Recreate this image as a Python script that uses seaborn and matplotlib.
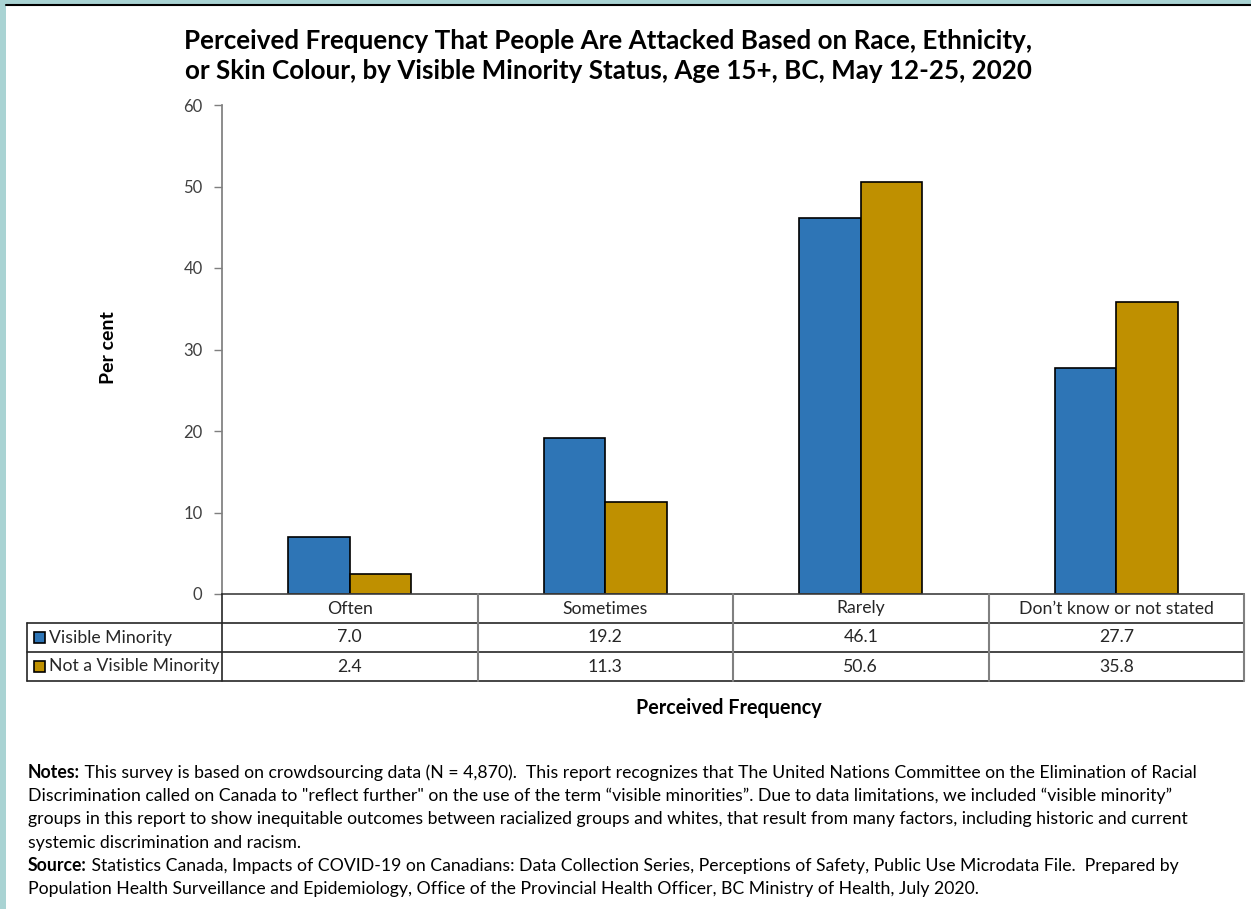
import matplotlib
matplotlib.use("Agg")
import matplotlib.pyplot as plt
from matplotlib.patches import Rectangle
from matplotlib.lines import Line2D
import pandas as pd
import seaborn as sns

# ---- data ----
categories = ["Often", "Sometimes", "Rarely", "Don\u2019t know or not stated"]
series_names = ["Visible Minority", "Not a Visible Minority"]
visible_minority = [7.0, 19.2, 46.1, 27.7]
not_visible_minority = [2.4, 11.3, 50.6, 35.8]
y_ticks = [0, 10, 20, 30, 40, 50, 60]

title = ("Perceived Frequency That People Are Attacked Based on Race, Ethnicity,\n"
         "or Skin Colour, by Visible Minority Status, Age 15+, BC, May 12-25, 2020")
x_label = "Perceived Frequency"
y_label = "Per cent"
notes_lines = [
    ("Notes:", " This survey is based on crowdsourcing data (N = 4,870).  This report recognizes that The United Nations Committee on the Elimination of Racial"),
    ("", "Discrimination called on Canada to \"reflect further\" on the use of the term \u201cvisible minorities\u201d. Due to data limitations, we included \u201cvisible minority\u201d"),
    ("", "groups in this report to show inequitable outcomes between racialized groups and whites, that result from many factors, including historic and current"),
    ("", "systemic discrimination and racism."),
    ("Source:", " Statistics Canada, Impacts of COVID-19 on Canadians: Data Collection Series, Perceptions of Safety, Public Use Microdata File.  Prepared by"),
    ("", "Population Health Surveillance and Epidemiology, Office of the Provincial Health Officer, BC Ministry of Health, July 2020."),
]

colors = ["#2e75b6", "#bf9000"]

df = pd.DataFrame({
    "category": categories * 2,
    "group": [series_names[0]] * 4 + [series_names[1]] * 4,
    "value": visible_minority + not_visible_minority,
})

sns.set_theme(style="white")
FONT = ["Lato", "DejaVu Sans"]
plt.rcParams["font.family"] = FONT

W, H = 1251, 909
fig = plt.figure(figsize=(W / 100, H / 100), dpi=100)
fig.patch.set_facecolor("white")

def fx(px):
    return px / W

def fy(py):
    return 1 - py / H

# frame strips around the page
teal = "#a9d3d3"
fig.patches.append(Rectangle((0, 0), fx(6), 1, transform=fig.transFigure,
                             facecolor=teal, edgecolor="none", zorder=0))
fig.patches.append(Rectangle((0, fy(4)), 1, 4 / H, transform=fig.transFigure,
                             facecolor=teal, edgecolor="none", zorder=0))
fig.lines.append(Line2D([fx(6), 1], [fy(4.5), fy(4.5)], transform=fig.transFigure,
                        color="black", lw=1.5))

# ---- bar chart ----
ax_l, ax_r, ax_t, ax_b = 222, 1244, 105, 594
ax = fig.add_axes([fx(ax_l), fy(ax_b), fx(ax_r - ax_l), (ax_b - ax_t) / H])
sns.barplot(data=df, x="category", y="value", hue="group", order=categories,
            hue_order=series_names, palette=colors, width=0.48, saturation=1,
            edgecolor="black", linewidth=1.2, legend=False, ax=ax)
ax.set_xlim(-0.5, len(categories) - 0.5)
ax.set_ylim(0, 60)
ax.set_yticks(y_ticks)
ax.set_yticklabels([str(t) for t in y_ticks], fontsize=12, color="#404040")
ax.tick_params(axis="y", direction="out", length=6, width=1, color="#7f7f7f",
               left=True, pad=8)
ax.set_xticks([])
ax.set_xlabel("")
ax.set_ylabel("")
for s in ["top", "right"]:
    ax.spines[s].set_visible(False)
ax.spines["left"].set_color("#7f7f7f")
ax.spines["bottom"].set_color("#404040")
ax.spines["bottom"].set_linewidth(1.2)

# ---- data table under the axis ----
tab_top, row_h = 594, 29
tab_left = 27
tax = fig.add_axes([0, 0, 1, 1], facecolor="none")
tax.set_xlim(0, W)
tax.set_ylim(H, 0)
tax.axis("off")

col_w = (ax_r - ax_l) / len(categories)
line_kw = dict(color="#262626", lw=1.2)
grey_kw = dict(color="#808080", lw=1.5)
for r in range(1, 4):
    y = tab_top + r * row_h
    tax.plot([tab_left, ax_r], [y, y], **line_kw)
tax.plot([tab_left, tab_left], [tab_top + row_h, tab_top + 3 * row_h], **line_kw)
tax.plot([ax_l, ax_l], [tab_top, tab_top + 3 * row_h], **line_kw)
for i in range(1, len(categories)):
    x = ax_l + i * col_w
    tax.plot([x, x], [tab_top, tab_top + 3 * row_h], **grey_kw)
tax.plot([ax_r, ax_r], [tab_top, tab_top + 3 * row_h], **grey_kw)

cell_font = 12.7
for i, cat in enumerate(categories):
    cx = ax_l + (i + 0.5) * col_w
    tax.text(cx, tab_top + 0.5 * row_h, cat, ha="center", va="center",
             fontsize=cell_font, color="#262626")
    for r, vals in enumerate([visible_minority, not_visible_minority]):
        tax.text(cx, tab_top + (r + 1.5) * row_h, f"{vals[i]:.1f}",
                 ha="center", va="center", fontsize=cell_font, color="#262626")

for r, (name, col) in enumerate(zip(series_names, colors)):
    yc = tab_top + (r + 1.5) * row_h
    tax.add_patch(Rectangle((34, yc - 5.5), 11, 11, facecolor=col,
                            edgecolor="black", lw=1.2))
    tax.text(49, yc, name, ha="left", va="center", fontsize=cell_font,
             color="#262626")

# ---- titles and axis labels ----
fig.text(fx(608), fy(56), title, ha="center", va="center", fontsize=18.7,
         fontweight="bold", color="black", linespacing=1.3)
fig.text(fx(108), fy(348), y_label, ha="center", va="center", rotation=90,
         fontsize=14, fontweight="bold", color="black")
fig.text(fx(729), fy(708), x_label, ha="center", va="center",
         fontsize=14.2, fontweight="bold", color="black")

# ---- notes ----
renderer = fig.canvas.get_renderer()
note_font = 12.7
y0, dy = 773, 23.2
for k, (bold, rest) in enumerate(notes_lines):
    y = y0 + k * dy
    x = 28
    if bold:
        t = tax.text(x, y, bold, ha="left", va="center", fontsize=note_font,
                     fontweight="bold", color="black")
        bb = t.get_window_extent(renderer)
        x = x + bb.width
    tax.text(x, y, rest, ha="left", va="center", fontsize=note_font, color="black")

fig.savefig("out.png", dpi=100)
